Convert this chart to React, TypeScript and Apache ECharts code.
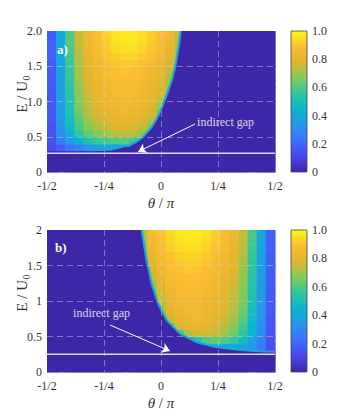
import React, { useEffect, useRef } from 'react';
import * as echarts from 'echarts';

// ---- data ----
const thetaCenters = [-0.48, -0.44, -0.40, -0.36, -0.32, -0.28, -0.24, -0.20, -0.16, -0.12, -0.08, -0.04, 0, 0.04, 0.08, 0.12, 0.16, 0.20, 0.24, 0.28, 0.32, 0.36, 0.40, 0.44, 0.48];
const energyCenters = [0.05, 0.15, 0.25, 0.35, 0.45, 0.55, 0.65, 0.75, 0.85, 0.95, 1.05, 1.15, 1.25, 1.35, 1.45, 1.55, 1.65, 1.75, 1.85, 1.95];

const xTickLabels = ['-1/2', '-1/4', '0', '1/4', '1/2'];
const yTickLabelsA = ['0', '0.5', '1.0', '1.5', '2.0'];
const yTickLabelsB = ['0', '0.5', '1', '1.5', '2'];
const cbTickLabels = ['0', '0.2', '0.4', '0.6', '0.8', '1.0'];

// panel a) values in percent, rows = energy (bottom to top), cols = theta (left to right)
const heatA = [
  [0, 0, 0, 0, 0, 0, 0, 0, 0, 0, 0, 0, 0, 0, 0, 0, 0, 0, 0, 0, 0, 0, 0, 0, 0],
  [0, 0, 0, 0, 0, 0, 0, 0, 0, 0, 0, 0, 0, 0, 0, 0, 0, 0, 0, 0, 0, 0, 0, 0, 0],
  [0, 0, 0, 0, 0, 0, 0, 0, 0, 0, 0, 0, 0, 0, 0, 0, 0, 0, 0, 0, 0, 0, 0, 0, 0],
  [12, 18, 24, 29, 34, 37, 39, 40, 38, 34, 0, 0, 0, 0, 0, 0, 0, 0, 0, 0, 0, 0, 0, 0, 0],
  [14, 26, 35, 44, 51, 56, 59, 61, 61, 58, 50, 0, 0, 0, 0, 0, 0, 0, 0, 0, 0, 0, 0, 0, 0],
  [15, 31, 44, 55, 62, 67, 71, 73, 74, 73, 68, 58, 0, 0, 0, 0, 0, 0, 0, 0, 0, 0, 0, 0, 0],
  [15, 33, 47, 59, 67, 72, 75, 77, 78, 77, 74, 66, 0, 0, 0, 0, 0, 0, 0, 0, 0, 0, 0, 0, 0],
  [16, 34, 49, 62, 70, 75, 78, 80, 81, 80, 78, 72, 62, 0, 0, 0, 0, 0, 0, 0, 0, 0, 0, 0, 0],
  [16, 35, 51, 64, 72, 77, 80, 82, 83, 82, 80, 76, 66, 0, 0, 0, 0, 0, 0, 0, 0, 0, 0, 0, 0],
  [16, 36, 52, 66, 74, 79, 82, 84, 85, 84, 82, 78, 70, 0, 0, 0, 0, 0, 0, 0, 0, 0, 0, 0, 0],
  [16, 36, 53, 67, 75, 80, 83, 85, 86, 85, 83, 80, 74, 62, 0, 0, 0, 0, 0, 0, 0, 0, 0, 0, 0],
  [17, 37, 54, 68, 76, 81, 84, 86, 86, 86, 84, 81, 77, 66, 0, 0, 0, 0, 0, 0, 0, 0, 0, 0, 0],
  [17, 37, 55, 69, 77, 82, 85, 87, 87, 87, 85, 82, 78, 70, 0, 0, 0, 0, 0, 0, 0, 0, 0, 0, 0],
  [17, 38, 56, 70, 78, 83, 86, 88, 88, 88, 86, 83, 79, 72, 0, 0, 0, 0, 0, 0, 0, 0, 0, 0, 0],
  [17, 38, 56, 71, 79, 84, 87, 89, 90, 89, 87, 84, 80, 74, 62, 0, 0, 0, 0, 0, 0, 0, 0, 0, 0],
  [17, 39, 57, 72, 80, 85, 88, 90, 91, 91, 89, 86, 82, 76, 66, 0, 0, 0, 0, 0, 0, 0, 0, 0, 0],
  [18, 39, 58, 73, 81, 86, 90, 92, 93, 93, 91, 88, 84, 78, 68, 0, 0, 0, 0, 0, 0, 0, 0, 0, 0],
  [18, 40, 59, 74, 82, 87, 91, 94, 95, 95, 93, 90, 86, 80, 70, 0, 0, 0, 0, 0, 0, 0, 0, 0, 0],
  [18, 40, 60, 75, 83, 88, 92, 95, 96, 96, 94, 91, 87, 82, 72, 0, 0, 0, 0, 0, 0, 0, 0, 0, 0],
  [18, 40, 60, 75, 84, 89, 93, 96, 97, 97, 95, 92, 88, 84, 74, 0, 0, 0, 0, 0, 0, 0, 0, 0, 0],
];

// panel b)
const heatB = [
  [0, 0, 0, 0, 0, 0, 0, 0, 0, 0, 0, 0, 0, 0, 0, 0, 0, 0, 0, 0, 0, 0, 0, 0, 0],
  [0, 0, 0, 0, 0, 0, 0, 0, 0, 0, 0, 0, 0, 0, 0, 0, 0, 0, 0, 0, 0, 0, 0, 0, 0],
  [0, 0, 0, 0, 0, 0, 0, 0, 0, 0, 0, 0, 0, 0, 0, 0, 0, 0, 0, 0, 0, 0, 0, 0, 0],
  [0, 0, 0, 0, 0, 0, 0, 0, 0, 0, 0, 0, 0, 0, 0, 0, 0, 28, 34, 38, 40, 38, 33, 24, 13],
  [0, 0, 0, 0, 0, 0, 0, 0, 0, 0, 0, 0, 0, 0, 0, 40, 52, 60, 62, 60, 55, 48, 38, 27, 14],
  [0, 0, 0, 0, 0, 0, 0, 0, 0, 0, 0, 0, 0, 0, 60, 72, 76, 76, 74, 70, 64, 55, 43, 30, 15],
  [0, 0, 0, 0, 0, 0, 0, 0, 0, 0, 0, 0, 0, 62, 76, 80, 81, 80, 77, 73, 67, 58, 45, 31, 15],
  [0, 0, 0, 0, 0, 0, 0, 0, 0, 0, 0, 0, 55, 74, 80, 82, 83, 81, 79, 75, 70, 61, 47, 32, 15],
  [0, 0, 0, 0, 0, 0, 0, 0, 0, 0, 0, 0, 68, 78, 82, 84, 84, 82, 80, 77, 72, 63, 49, 33, 16],
  [0, 0, 0, 0, 0, 0, 0, 0, 0, 0, 0, 0, 72, 80, 84, 85, 85, 83, 81, 78, 73, 65, 50, 34, 16],
  [0, 0, 0, 0, 0, 0, 0, 0, 0, 0, 0, 60, 76, 82, 85, 86, 86, 84, 82, 79, 74, 66, 51, 34, 16],
  [0, 0, 0, 0, 0, 0, 0, 0, 0, 0, 0, 65, 77, 83, 86, 87, 87, 85, 83, 80, 75, 67, 52, 35, 16],
  [0, 0, 0, 0, 0, 0, 0, 0, 0, 0, 0, 70, 79, 85, 87, 88, 88, 86, 84, 81, 76, 68, 53, 35, 17],
  [0, 0, 0, 0, 0, 0, 0, 0, 0, 0, 0, 74, 81, 86, 88, 89, 89, 88, 85, 82, 77, 69, 54, 36, 17],
  [0, 0, 0, 0, 0, 0, 0, 0, 0, 0, 0, 76, 83, 88, 90, 91, 90, 89, 86, 83, 78, 70, 55, 36, 17],
  [0, 0, 0, 0, 0, 0, 0, 0, 0, 0, 0, 78, 85, 89, 91, 92, 92, 90, 87, 84, 79, 71, 55, 37, 17],
  [0, 0, 0, 0, 0, 0, 0, 0, 0, 0, 65, 80, 86, 90, 92, 93, 93, 91, 88, 85, 80, 72, 56, 37, 17],
  [0, 0, 0, 0, 0, 0, 0, 0, 0, 0, 68, 82, 88, 92, 94, 95, 95, 93, 90, 86, 81, 73, 57, 38, 18],
  [0, 0, 0, 0, 0, 0, 0, 0, 0, 0, 70, 84, 89, 93, 95, 96, 96, 94, 91, 87, 82, 74, 58, 38, 18],
  [0, 0, 0, 0, 0, 0, 0, 0, 0, 0, 72, 86, 90, 94, 96, 97, 97, 95, 92, 88, 83, 75, 59, 39, 18],
];

// edge of the non-zero region (theta, E)
const edgeThetaA = [-0.5, -0.3, -0.22, -0.148, -0.104, -0.075, -0.045, -0.016, 0.006, 0.028, 0.05, 0.064, 0.079, 0.086];
const edgeEnergyA = [0.29, 0.29, 0.30, 0.36, 0.435, 0.51, 0.62, 0.77, 0.93, 1.12, 1.33, 1.52, 1.81, 2.0];
const edgeThetaB = [-0.085, -0.063, -0.041, -0.012, 0.025, 0.083, 0.157, 0.244, 0.346, 0.447, 0.5];
const edgeEnergyB = [2.0, 1.57, 1.24, 0.96, 0.73, 0.54, 0.42, 0.35, 0.31, 0.29, 0.285];

const gapA = 0.265;
const gapB = 0.25;
const arrowA = [[0.149, 0.68], [-0.1, 0.288]];
const arrowB = [[-0.224, 0.662], [0.039, 0.296]];
const noteA = [0.158, 0.71];
const noteB = [-0.386, 0.835];
const noteText = 'indirect gap';

const PARULA = ['#3e26a8', '#4847eb', '#3e6fff', '#2796eb', '#08b4d0', '#31c69f', '#80cc59', '#e2b42e', '#fbbd33', '#f9fb14'];
const DARK = PARULA[0];
const FONT = "'Times New Roman', 'Liberation Serif', 'DejaVu Serif', serif";
const TXT = '#333333';

function cells(rows: number[][]) {
  const out: number[][] = [];
  rows.forEach((row, j) => row.forEach((v, i) => out.push([thetaCenters[i], energyCenters[j], v / 100])));
  return out;
}

const halfW = (thetaCenters[1] - thetaCenters[0]) / 2;
const halfH = (energyCenters[1] - energyCenters[0]) / 2;

function renderCell(params: any, api: any) {
  const t = api.value(0);
  const e = api.value(1);
  const p1 = api.coord([t - halfW, e + halfH]);
  const p2 = api.coord([t + halfW, e - halfH]);
  return {
    type: 'rect',
    shape: { x: p1[0], y: p1[1], width: p2[0] - p1[0] + 0.6, height: p2[1] - p1[1] + 0.6 },
    style: { fill: api.visual('color') },
  };
}

// dark (zero) region beyond the edge curve + thin edge band
function edgeSeries(xi: number, thetas: number[], energies: number[], corners: number[][], bandFrom: number) {
  return {
    type: 'custom', xAxisIndex: xi, yAxisIndex: xi, z: 2, silent: true,
    data: [[0, 0]],
    renderItem: (params: any, api: any) => {
      const curve = thetas.map((t, k) => api.coord([t, energies[k]]));
      const poly = curve.concat(corners.map((c) => api.coord(c)));
      return {
        type: 'group',
        children: [
          { type: 'polygon', shape: { points: poly }, style: { fill: DARK } },
          { type: 'polyline', shape: { points: curve.slice(bandFrom) }, style: { stroke: '#1aa9d6', lineWidth: 2.2, fill: 'none', opacity: 0.9 } },
        ],
      };
    },
  };
}

function plotXAxis(gridIndex: number) {
  return {
    type: 'value', gridIndex, min: -0.5, max: 0.5, interval: 0.25, z: 5,
    name: '{i|θ} / {i|π}', nameLocation: 'middle', nameGap: 23,
    nameTextStyle: { fontFamily: FONT, fontSize: 15, color: TXT, rich: { i: { fontFamily: FONT, fontSize: 15, fontStyle: 'italic', color: TXT } } },
    axisLine: { show: false }, axisTick: { show: false },
    axisLabel: { fontFamily: FONT, fontSize: 12, color: TXT, margin: 8, formatter: (v: number) => xTickLabels[Math.round((v + 0.5) / 0.25)] },
    splitLine: { show: true, showMinLine: false, showMaxLine: false, lineStyle: { color: 'rgba(210,210,235,0.45)', type: [6, 4], width: 1 } },
  };
}
function plotYAxis(gridIndex: number, labels: string[]) {
  return {
    type: 'value', gridIndex, min: 0, max: 2, interval: 0.5, z: 5,
    axisLine: { show: false }, axisTick: { show: false },
    axisLabel: { fontFamily: FONT, fontSize: 12, color: TXT, margin: 5, formatter: (v: number) => labels[Math.round(v / 0.5)] },
    splitLine: { show: true, showMinLine: false, showMaxLine: false, lineStyle: { color: 'rgba(210,210,235,0.45)', type: [6, 4], width: 1 } },
  };
}
function cbYAxis(gridIndex: number) {
  return {
    type: 'value', gridIndex, min: 0, max: 1, interval: 0.2, position: 'right',
    axisLine: { show: false }, axisTick: { show: false }, splitLine: { show: false },
    axisLabel: { fontFamily: FONT, fontSize: 12, color: TXT, margin: 5, formatter: (v: number) => cbTickLabels[Math.round(v / 0.2)] },
  };
}

function gradient() {
  return new echarts.graphic.LinearGradient(0, 1, 0, 0, PARULA.map((c, i) => ({ offset: i / (PARULA.length - 1), color: c })));
}

function yName(x: number, y: number) {
  return {
    type: 'group', x, y, rotation: Math.PI / 2,
    children: [
      { type: 'text', x: 13, y: 0, style: { text: 'E / U', font: `15px ${FONT}`, fontFamily: FONT, fontSize: 15, fill: TXT, align: 'right', verticalAlign: 'middle' } },
      { type: 'text', x: 13.5, y: 4, style: { text: '0', font: `10px ${FONT}`, fontFamily: FONT, fontSize: 10, fill: TXT, align: 'left', verticalAlign: 'middle' } },
    ],
  };
}

function annotation(xi: number, arrow: number[][], note: number[]) {
  return [
    {
      type: 'lines', coordinateSystem: 'cartesian2d', xAxisIndex: xi, yAxisIndex: xi, z: 6,
      symbol: ['none', 'arrow'], symbolSize: 8,
      lineStyle: { color: '#ffffff', width: 1, opacity: 1 },
      data: [{ coords: arrow }],
    },
    {
      type: 'scatter', xAxisIndex: xi, yAxisIndex: xi, z: 6, symbolSize: 0.1,
      itemStyle: { color: 'rgba(0,0,0,0)' },
      label: { show: true, position: 'right', distance: 0, formatter: noteText, color: '#ffffff', fontFamily: FONT, fontSize: 12 },
      data: [note],
    },
  ];
}

export default function App() {
  const ref = useRef<HTMLDivElement>(null);
  useEffect(() => {
    if (!ref.current) return;
    const chart = echarts.init(ref.current, undefined, { renderer: 'svg' });
    const option: any = {
      animation: false,
      backgroundColor: '#ffffff',
      textStyle: { fontFamily: FONT },
      grid: [
        { left: 47, top: 31, width: 228, height: 141 },
        { left: 47, top: 230, width: 228, height: 142 },
        { left: 291, top: 31, width: 16, height: 141, show: true, backgroundColor: gradient(), borderColor: '#444', borderWidth: 0.8 },
        { left: 291, top: 230, width: 16, height: 142, show: true, backgroundColor: gradient(), borderColor: '#444', borderWidth: 0.8 },
      ],
      xAxis: [
        plotXAxis(0), plotXAxis(1),
        { type: 'value', gridIndex: 2, show: false, min: 0, max: 1 },
        { type: 'value', gridIndex: 3, show: false, min: 0, max: 1 },
      ],
      yAxis: [plotYAxis(0, yTickLabelsA), plotYAxis(1, yTickLabelsB), cbYAxis(2), cbYAxis(3)],
      visualMap: [
        { type: 'continuous', show: false, seriesIndex: 0, dimension: 2, min: 0, max: 1, inRange: { color: PARULA } },
        { type: 'continuous', show: false, seriesIndex: 1, dimension: 2, min: 0, max: 1, inRange: { color: PARULA } },
      ],
      series: [
        { type: 'custom', xAxisIndex: 0, yAxisIndex: 0, renderItem: renderCell, encode: { x: 0, y: 1 }, data: cells(heatA), z: 1 },
        { type: 'custom', xAxisIndex: 1, yAxisIndex: 1, renderItem: renderCell, encode: { x: 0, y: 1 }, data: cells(heatB), z: 1 },
        edgeSeries(0, edgeThetaA, edgeEnergyA, [[0.5, 2.0], [0.5, 0], [-0.5, 0]], 3),
        edgeSeries(1, edgeThetaB, edgeEnergyB, [[0.5, 0], [-0.5, 0], [-0.5, 2.0]], 0),
        { type: 'line', xAxisIndex: 0, yAxisIndex: 0, z: 6, symbol: 'none', lineStyle: { color: '#dcdcf0', width: 1.5 }, data: [[-0.5, gapA], [0.5, gapA]] },
        { type: 'line', xAxisIndex: 1, yAxisIndex: 1, z: 6, symbol: 'none', lineStyle: { color: '#dcdcf0', width: 1.5 }, data: [[-0.5, gapB], [0.5, gapB]] },
        ...annotation(0, arrowA, noteA),
        ...annotation(1, arrowB, noteB),
      ],
      graphic: [
        yName(22, 94),
        yName(22, 293),
        { type: 'text', x: 57, y: 49, z: 10, style: { text: 'a)', font: `bold 13px ${FONT}`, fontFamily: FONT, fontSize: 13, fontWeight: 'bold', fill: '#ffffff', verticalAlign: 'middle' } },
        { type: 'text', x: 55, y: 247, z: 10, style: { text: 'b)', font: `bold 13px ${FONT}`, fontFamily: FONT, fontSize: 13, fontWeight: 'bold', fill: '#ffffff', verticalAlign: 'middle' } },
      ],
    };
    chart.setOption(option);
    return () => chart.dispose();
  }, []);
  return <div ref={ref} style={{ position: 'fixed', left: 0, top: 0, width: 362, height: 420 }} />;
}
